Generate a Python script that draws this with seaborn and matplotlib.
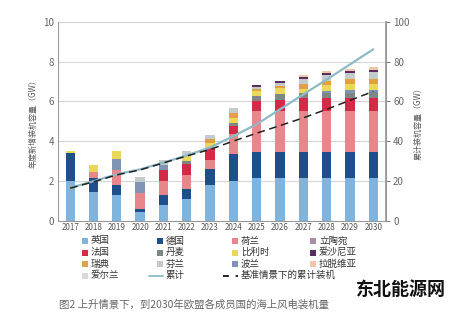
import numpy as np
import pandas as pd
import matplotlib
matplotlib.use("Agg")
import matplotlib.pyplot as plt
import seaborn as sns
from matplotlib.lines import Line2D

years = [str(y) for y in range(2017, 2031)]

# annual additions (GW), stacking order bottom -> top
uk = [2.0, 1.45, 1.3, 0.42, 0.79, 1.1, 1.77, 2.0, 2.14, 2.14, 2.14, 2.14, 2.14, 2.14]
de = [1.4, 0.69, 0.5, 0.17, 0.51, 0.5, 0.84, 1.35, 1.31, 1.31, 1.31, 1.31, 1.31, 1.31]
nl = [0, 0.28, 0.73, 0.79, 0.67, 0.71, 0.46, 1.01, 2.05, 2.05, 2.05, 2.05, 2.05, 2.05]
fr = [0, 0, 0, 0, 0.59, 0.54, 0.59, 0.39, 0.51, 0.59, 0.68, 0.68, 0.68, 0.68]
dk = [0, 0, 0, 0, 0, 0.13, 0, 0.17, 0.25, 0.29, 0.25, 0.25, 0.25, 0.28]
pl = [0, 0, 0.57, 0.54, 0.25, 0, 0, 0, 0, 0, 0, 0.1, 0.12, 0.12]
be = [0.1, 0.39, 0.38, 0, 0, 0.25, 0.25, 0.25, 0.26, 0.3, 0.2, 0.3, 0.3, 0.28]
se = [0, 0, 0, 0, 0, 0, 0.22, 0.25, 0.1, 0.1, 0.25, 0.2, 0.28, 0.28]
fi = [0, 0, 0, 0.27, 0.25, 0.26, 0.16, 0.26, 0.11, 0.16, 0.25, 0.3, 0.28, 0.33]
lt = [0] * 14
ee = [0, 0, 0, 0, 0, 0, 0, 0, 0.09, 0.08, 0.12, 0.1, 0.12, 0.13]
lv = [0, 0, 0, 0, 0, 0, 0, 0, 0, 0, 0.1, 0.11, 0.12, 0.13]
ie = [0] * 14

# cumulative installed capacity (GW)
cum_up = [16.5, 19.8, 23.3, 25.8, 29.2, 32.8, 36.8, 42.5, 48.5, 56.0, 63.5, 71.0, 78.6, 86.2]
cum_base = [16.3, 19.5, 23.0, 25.5, 29.0, 32.5, 35.8, 40.0, 44.0, 47.8, 51.7, 56.0, 60.5, 65.0]

names = ["英国", "德国", "荷兰", "法国", "丹麦", "波兰", "比利时", "瑞典", "芬兰",
         "立陶宛", "爱沙尼亚", "拉脱维亚", "爱尔兰"]
series = [uk, de, nl, fr, dk, pl, be, se, fi, lt, ee, lv, ie]
colors = {
    "英国": "#7fb4de", "德国": "#1f4f8a", "荷兰": "#e8878b", "立陶宛": "#a98ca8",
    "法国": "#d42a48", "丹麦": "#7d8886", "比利时": "#e9d85a", "爱沙尼亚": "#5b2d5e",
    "瑞典": "#e2a040", "芬兰": "#c4cbcc", "波兰": "#7f93b5", "拉脱维亚": "#efc6a8",
    "爱尔兰": "#d9d9d9",
}
line_col = "#8dbac6"

sns.set_theme(style="white")
plt.rcParams["font.family"] = ["Noto Sans CJK SC", "DejaVu Sans"]

W, H = 472, 322
fig = plt.figure(figsize=(W / 100, H / 100), dpi=100)
ax = fig.add_axes([0.123, 0.315, 0.695, 0.617])

cum = np.cumsum(np.array(series, dtype=float), axis=0)
for i in range(len(names) - 1, -1, -1):
    df = pd.DataFrame({"year": years, "v": cum[i]})
    sns.barplot(data=df, x="year", y="v", color=colors[names[i]], saturation=1,
                width=0.4, errorbar=None, ax=ax, linewidth=0, zorder=2)

ax.set_ylim(0, 10)
ax.set_xlim(-0.52, 13.55)
ax.set_yticks([0, 2, 4, 6, 8, 10])
ax.yaxis.grid(True, color="#d5d5d5", linewidth=0.8, zorder=0)
ax.set_axisbelow(True)
ax.set_xlabel("")
ax.set_ylabel("年度新增装机容量（GW）", fontsize=5.8, color="#555", labelpad=4)
ax.tick_params(axis="x", labelsize=5.8, colors="#555", length=0, pad=2)
ax.tick_params(axis="y", labelsize=7, colors="#666", length=0, pad=3)
ax.spines["top"].set_visible(False)
for s in ["left", "right", "bottom"]:
    ax.spines[s].set_color("#999")
    ax.spines[s].set_linewidth(0.8)

ax2 = ax.twinx()
xs = np.arange(len(years))
sns.lineplot(x=xs, y=cum_up, ax=ax2, color=line_col, linewidth=1.6, zorder=5)
sns.lineplot(x=xs, y=cum_base, ax=ax2, color="#222", linewidth=1.1, linestyle=(0, (5, 3)), zorder=5)
ax2.set_ylim(0, 100)
ax2.set_xlim(-0.52, 13.55)
ax2.set_yticks([0, 20, 40, 60, 80, 100])
ax2.tick_params(axis="y", labelsize=7, colors="#666", length=3, width=0.6, pad=2, direction="out")
ax2.set_ylabel("累计装机容量（GW）", fontsize=5.8, color="#555", labelpad=3)
ax2.spines["top"].set_visible(False)
ax2.spines["right"].set_color("#999")
ax2.spines["left"].set_visible(False)
ax2.spines["bottom"].set_visible(False)

# legend, laid out row-wise in four columns
legend_rows = [
    ["英国", "德国", "荷兰", "立陶宛"],
    ["法国", "丹麦", "比利时", "爱沙尼亚"],
    ["瑞典", "芬兰", "波兰", "拉脱维亚"],
    ["爱尔兰", "累计", "基准情景下的累计装机"],
]
col_px = [85, 160, 235, 313]
row_px = [241, 252.5, 264, 275.5]
for r, row in enumerate(legend_rows):
    yf = 1 - row_px[r] / H
    for c, lab in enumerate(row):
        xp = col_px[c]
        if lab in colors:
            fig.add_artist(Line2D([xp / W], [yf], marker="s", markersize=4.5, linestyle="none",
                                  markerfacecolor=colors[lab], markeredgewidth=0,
                                  transform=fig.transFigure))
        elif lab == "累计":
            fig.add_artist(Line2D([(xp - 11) / W, (xp + 3) / W], [yf, yf], color=line_col,
                                  linewidth=1.3, transform=fig.transFigure))
        else:
            fig.add_artist(Line2D([(xp - 12) / W, (xp + 3) / W], [yf, yf], color="#222",
                                  linewidth=1.4, linestyle=(0, (3, 3.5)),
                                  transform=fig.transFigure))
        fig.text((xp + 6) / W, yf, lab, fontsize=6.8, color="#333", va="center", ha="left")

fig.text(0.125, 0.045, "图2 上升情景下，到2030年欧盟各成员国的海上风电装机量",
         fontsize=7.5, color="#666")
fig.text(0.755, 0.085, "东北能源网", fontsize=13, color="#111", fontweight="bold")

fig.savefig("out.png", dpi=100)
